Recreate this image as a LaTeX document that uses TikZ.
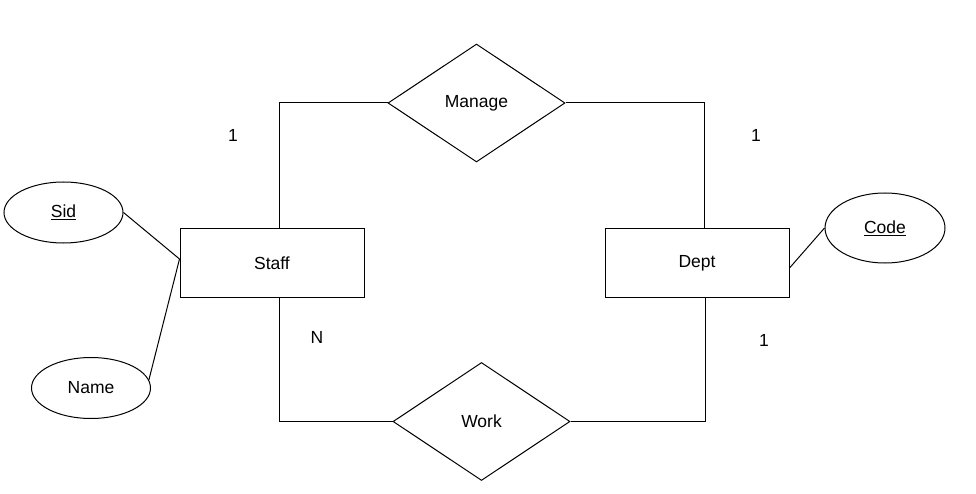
\documentclass[tikz,border=0pt]{standalone}
\usepackage{fontspec}
\setmainfont{Liberation Sans}
\usetikzlibrary{shapes.geometric}
\begin{document}
\begin{tikzpicture}[x=1pt,y=-1pt,line width=1pt,
  every node/.style={font=\fontsize{17.5}{20}\selectfont},
  entity/.style={draw,rectangle,minimum width=184pt,minimum height=68pt,inner sep=0pt},
  rel/.style={draw,diamond,aspect=1.5,minimum width=177pt,minimum height=118pt,inner sep=0pt},
  attr/.style={draw,ellipse,minimum width=119pt,minimum height=61pt,inner sep=0pt},
  card/.style={inner sep=0pt}]
\useasboundingbox (0,0) rectangle (976,494);
\node[entity] (staff) at (272,263) {Staff};
\node[entity] (dept) at (697,263) {Dept};
\node[rel] (manage) at (476.5,103) {Manage};
\node[rel] (work) at (481.5,421.5) {Work};
\node[attr] (sid) at (63.5,212.5) {\underline{Sid}};
\node[attr] (name) at (91,388) {Name};
\node[attr,minimum width=120pt,minimum height=70pt] (code) at (885,228) {\underline{Code}};
\node[card] (c1) at (233,135) {1};
\node[card] (c2) at (756,135) {1};
\node[card] (c3) at (317,337) {N};
\node[card] (c4) at (764,340) {1};
\draw (manage.west) -| ([xshift=7pt]staff.north);
\draw (manage.east) -| ([xshift=7pt]dept.north);
\draw (work.west) -| ([xshift=7pt]staff.south);
\draw (work.east) -| ([xshift=8pt]dept.south);
\draw (sid.east) -- ([yshift=4pt]staff.west);
\draw (name.8) -- ([yshift=4pt]staff.west);
\draw (code.west) -- ([yshift=-5pt]dept.east);
\end{tikzpicture}
\end{document}
